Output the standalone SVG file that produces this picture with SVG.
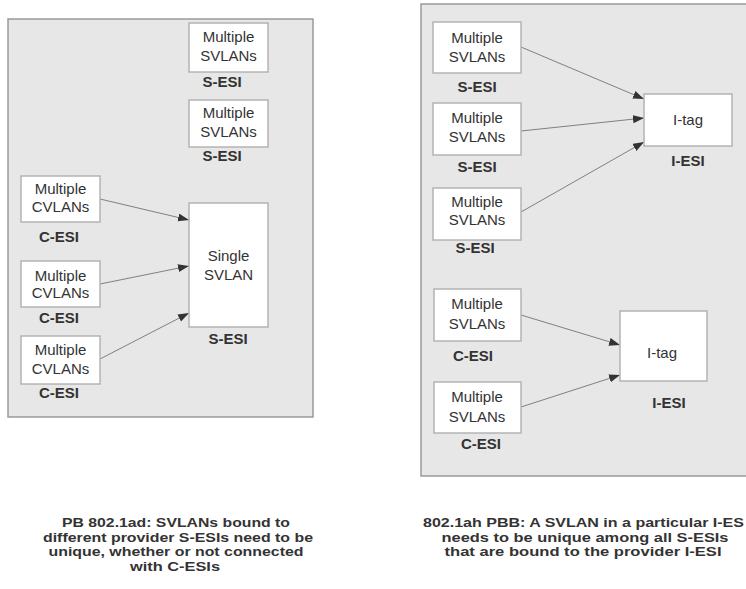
<svg xmlns="http://www.w3.org/2000/svg" width="746" height="589" viewBox="0 0 746 589">
<style>
.panel{fill:#e6e7e6;stroke:#9a9a9a;stroke-width:1.5}
.box{fill:#ffffff;stroke:#b4b4b4;stroke-width:1.5}
.t{font-family:"Liberation Sans",Arial,sans-serif;font-size:15px;fill:#333;text-anchor:middle}
.l{font-family:"Liberation Sans",Arial,sans-serif;font-size:15px;font-weight:bold;fill:#333;text-anchor:middle}
.c{font-family:"Liberation Sans",Arial,sans-serif;font-size:13px;font-weight:bold;fill:#333;text-anchor:middle}
.e{stroke:#808080;stroke-width:1;fill:none;marker-end:url(#ah)}
</style>
<defs>
<marker id="ah" markerUnits="userSpaceOnUse" markerWidth="12" markerHeight="10" refX="11" refY="4" orient="auto">
<path d="M0,0 L11,4 L0,8 Z" fill="#333"/>
</marker>
</defs>
<rect class="panel" x="8" y="19" width="305" height="398"/>
<rect class="panel" x="421" y="4" width="335" height="472"/>
<g id="connectors">
<line class="e" x1="100" y1="199" x2="189" y2="220"/>
<line class="e" x1="100" y1="284" x2="189" y2="266"/>
<line class="e" x1="100" y1="359" x2="189" y2="313"/>
<line class="e" x1="521" y1="47" x2="644" y2="99"/>
<line class="e" x1="521" y1="131" x2="644" y2="118"/>
<line class="e" x1="521" y1="212" x2="644" y2="142"/>
<line class="e" x1="521" y1="315" x2="620" y2="345"/>
<line class="e" x1="521" y1="407" x2="620" y2="375"/>
</g>
<g id="ls1"><rect class="box" x="189" y="23" width="79" height="49"/><text class="t" x="228.5" y="42">Multiple</text><text class="t" x="228.5" y="61">SVLANs</text><text class="l" x="222" y="87">S-ESI</text></g>
<g id="ls2"><rect class="box" x="189" y="100" width="79" height="47"/><text class="t" x="228.5" y="118">Multiple</text><text class="t" x="228.5" y="137">SVLANs</text><text class="l" x="222" y="161">S-ESI</text></g>
<g id="lc1"><rect class="box" x="21" y="176" width="79" height="46"/><text class="t" x="60.5" y="194">Multiple</text><text class="t" x="60.5" y="212">CVLANs</text><text class="l" x="59" y="242">C-ESI</text></g>
<g id="lc2"><rect class="box" x="21" y="261" width="79" height="46"/><text class="t" x="60.5" y="281">Multiple</text><text class="t" x="60.5" y="298">CVLANs</text><text class="l" x="59" y="323">C-ESI</text></g>
<g id="lc3"><rect class="box" x="21" y="336" width="79" height="48"/><text class="t" x="60.5" y="355">Multiple</text><text class="t" x="60.5" y="374">CVLANs</text><text class="l" x="59" y="398">C-ESI</text></g>
<g id="lsingle"><rect class="box" x="189" y="203" width="79" height="124"/><text class="t" x="228.5" y="261">Single</text><text class="t" x="228.5" y="280">SVLAN</text><text class="l" x="228" y="344">S-ESI</text></g>
<g id="rs1"><rect class="box" x="433" y="22" width="88" height="51"/><text class="t" x="477" y="43">Multiple</text><text class="t" x="477" y="62">SVLANs</text><text class="l" x="477" y="92">S-ESI</text></g>
<g id="rs2"><rect class="box" x="433" y="103" width="88" height="52"/><text class="t" x="477" y="123">Multiple</text><text class="t" x="477" y="142">SVLANs</text><text class="l" x="477" y="172">S-ESI</text></g>
<g id="rs3"><rect class="box" x="433" y="188" width="88" height="52"/><text class="t" x="477" y="207">Multiple</text><text class="t" x="477" y="225">SVLANs</text><text class="l" x="475" y="253">S-ESI</text></g>
<g id="ri1"><rect class="box" x="644" y="94" width="88" height="52"/><text class="t" x="688" y="125">I-tag</text><text class="l" x="688" y="166">I-ESI</text></g>
<g id="rc1"><rect class="box" x="434" y="289" width="87" height="52"/><text class="t" x="477" y="309">Multiple</text><text class="t" x="477" y="329">SVLANs</text><text class="l" x="473" y="361">C-ESI</text></g>
<g id="rc2"><rect class="box" x="434" y="382" width="87" height="51"/><text class="t" x="477" y="402">Multiple</text><text class="t" x="477" y="422">SVLANs</text><text class="l" x="481" y="449">C-ESI</text></g>
<g id="ri2"><rect class="box" x="620" y="311" width="87" height="70"/><text class="t" x="662" y="358">I-tag</text><text class="l" x="669" y="408">I-ESI</text></g>
<g id="captions">
<text class="c" x="176" y="527" textLength="228" lengthAdjust="spacingAndGlyphs">PB 802.1ad: SVLANs bound to</text>
<text class="c" x="178" y="541.7" textLength="270" lengthAdjust="spacingAndGlyphs">different provider S-ESIs need to be</text>
<text class="c" x="176" y="556.4" textLength="255" lengthAdjust="spacingAndGlyphs">unique, whether or not connected</text>
<text class="c" x="175" y="571.1" textLength="90" lengthAdjust="spacingAndGlyphs">with C-ESIs</text>
<text class="c" x="423" y="527" style="text-anchor:start" textLength="321" lengthAdjust="spacingAndGlyphs">802.1ah PBB: A SVLAN in a particular I-ES</text>
<text class="c" x="585" y="541.7" textLength="287" lengthAdjust="spacingAndGlyphs">needs to be unique among all S-ESIs</text>
<text class="c" x="583" y="556.4" textLength="277" lengthAdjust="spacingAndGlyphs">that are bound to the provider I-ESI</text>
</g>
</svg>
